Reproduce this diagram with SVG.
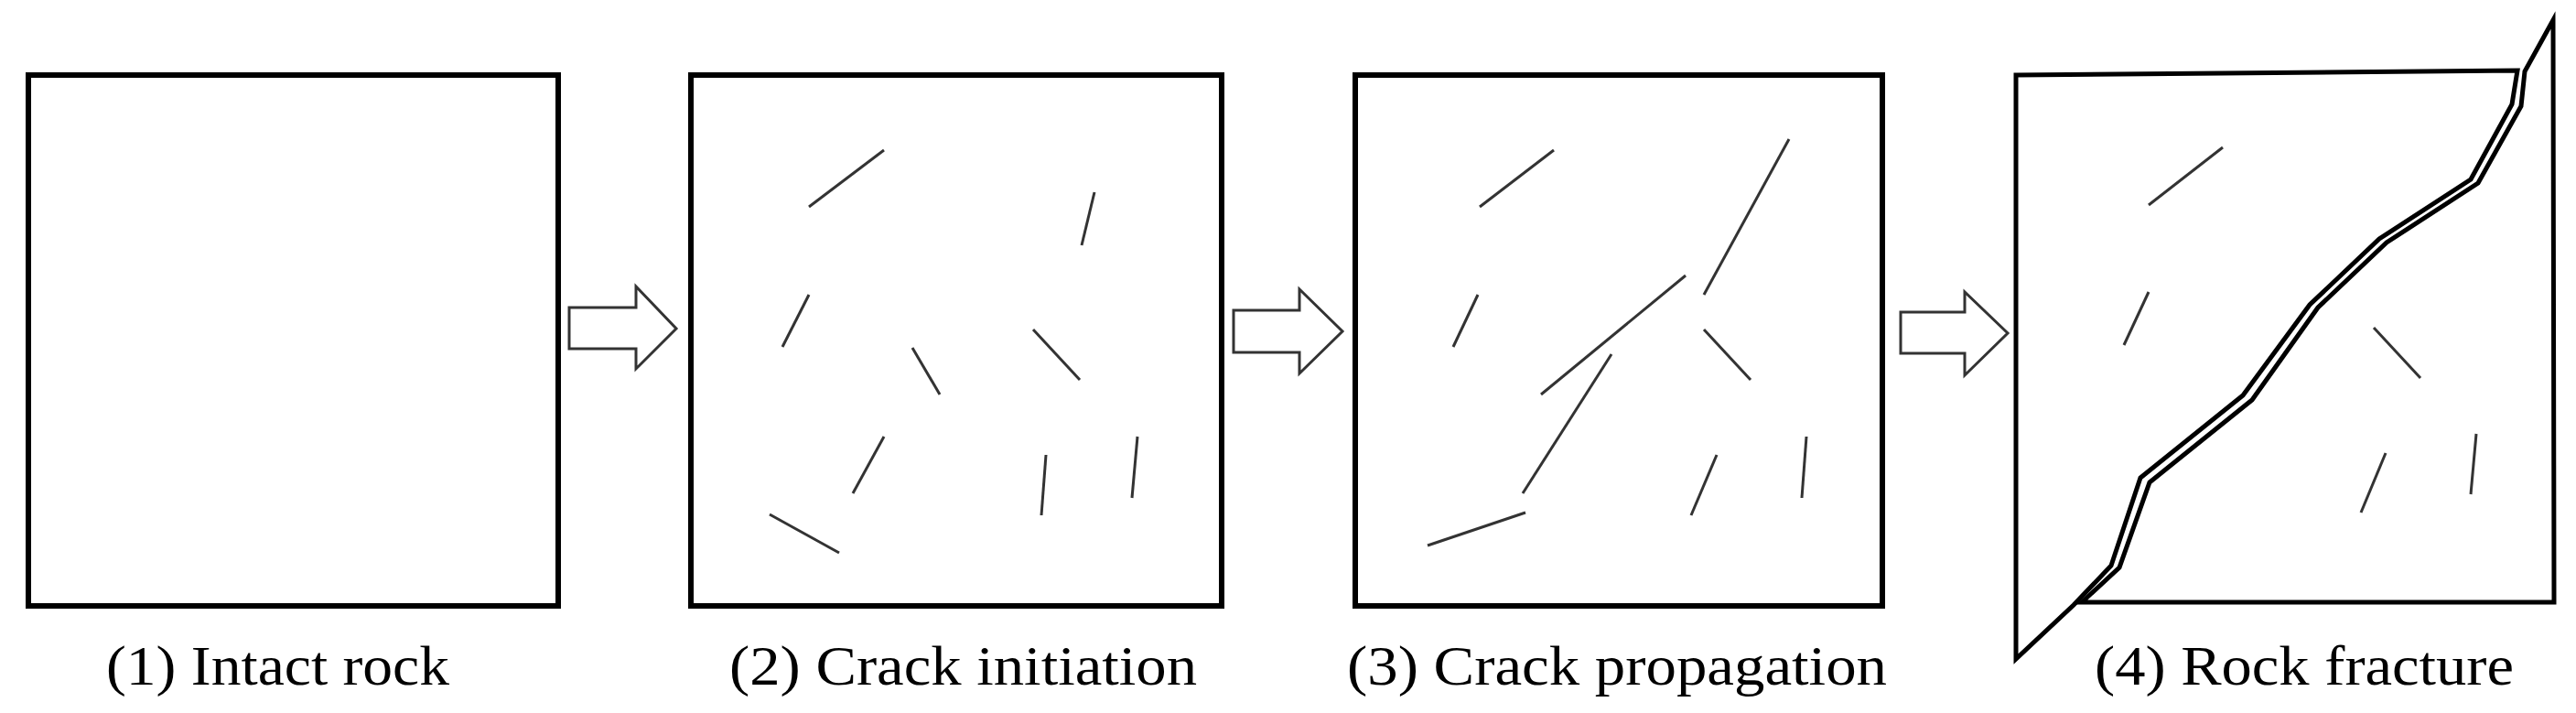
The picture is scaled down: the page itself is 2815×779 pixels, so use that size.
<svg xmlns="http://www.w3.org/2000/svg" width="2815" height="779" viewBox="0 0 2815 779">
<style>
.box{fill:#fff;stroke:#000;stroke-width:6}
.c{stroke:#333;stroke-width:3;fill:none}
.ar{fill:#fff;stroke:#333;stroke-width:3}
.f{fill:#fff;stroke:#000;stroke-width:5;stroke-linejoin:miter}
text{font-family:"Liberation Serif","Times New Roman",serif;font-size:62px;fill:#000}
</style>
<rect width="2815" height="779" fill="#fff"/>
<g id="panel1"><rect class="box" x="31" y="82" width="579" height="580"/></g>
<g id="panel2"><rect class="box" x="755" y="82" width="580" height="580"/>
<line class="c" x1="884" y1="226" x2="966" y2="164"/><line class="c" x1="1182" y1="268" x2="1196" y2="210"/>
<line class="c" x1="855" y1="379" x2="884" y2="322"/><line class="c" x1="1027" y1="431" x2="997" y2="380"/>
<line class="c" x1="1180" y1="415" x2="1129" y2="360"/><line class="c" x1="932" y1="539" x2="966" y2="477"/>
<line class="c" x1="1138" y1="563" x2="1143" y2="497"/><line class="c" x1="1237" y1="544" x2="1243" y2="477"/>
<line class="c" x1="841" y1="562" x2="917" y2="604"/></g>
<g id="panel3"><rect class="box" x="1481" y="82" width="576" height="580"/>
<line class="c" x1="1617" y1="226" x2="1698" y2="164"/><line class="c" x1="1862" y1="322" x2="1955" y2="152"/>
<line class="c" x1="1684" y1="431" x2="1842" y2="301"/><line class="c" x1="1588" y1="379" x2="1615" y2="322"/>
<line class="c" x1="1913" y1="415" x2="1862" y2="360"/><line class="c" x1="1664" y1="539" x2="1761" y2="387"/>
<line class="c" x1="1848" y1="563" x2="1876" y2="497"/><line class="c" x1="1969" y1="544" x2="1974" y2="477"/>
<line class="c" x1="1560" y1="596" x2="1667" y2="560"/></g>
<g id="panel4">
<polygon class="f" points="2203,82 2751,77 2745,114 2700,196 2600,261 2524,333 2451,432 2339,522 2307,618 2266,661 2203,720"/>
<polygon class="f" points="2790,22 2791,658 2275,658 2316,620 2349,527 2461,437 2533,336 2608,265 2708,200 2755,116 2759,78"/>
<line class="c" x1="2348" y1="224" x2="2429" y2="161"/><line class="c" x1="2321" y1="377" x2="2348" y2="319"/>
<line class="c" x1="2645" y1="413" x2="2594" y2="358"/><line class="c" x1="2580" y1="560" x2="2607" y2="495"/>
<line class="c" x1="2700" y1="540" x2="2706" y2="474"/></g>
<g id="connectors">
<polygon class="ar" points="622,336 695,336 695,313 739,359 695,403 695,381 622,381"/>
<polygon class="ar" points="1348,339 1420,339 1420,316 1467,362 1420,408 1420,385 1348,385"/>
<polygon class="ar" points="2077,341 2147,341 2147,319 2194,364 2147,410 2147,386 2077,386"/>
</g>
<g id="labels">
<text x="116" y="748" textLength="375" lengthAdjust="spacingAndGlyphs">(1) Intact rock</text>
<text x="797" y="748" textLength="511" lengthAdjust="spacingAndGlyphs">(2) Crack initiation</text>
<text x="1472" y="748" textLength="590" lengthAdjust="spacingAndGlyphs">(3) Crack propagation</text>
<text x="2289" y="748" textLength="458" lengthAdjust="spacingAndGlyphs">(4) Rock fracture</text>
</g>
</svg>
